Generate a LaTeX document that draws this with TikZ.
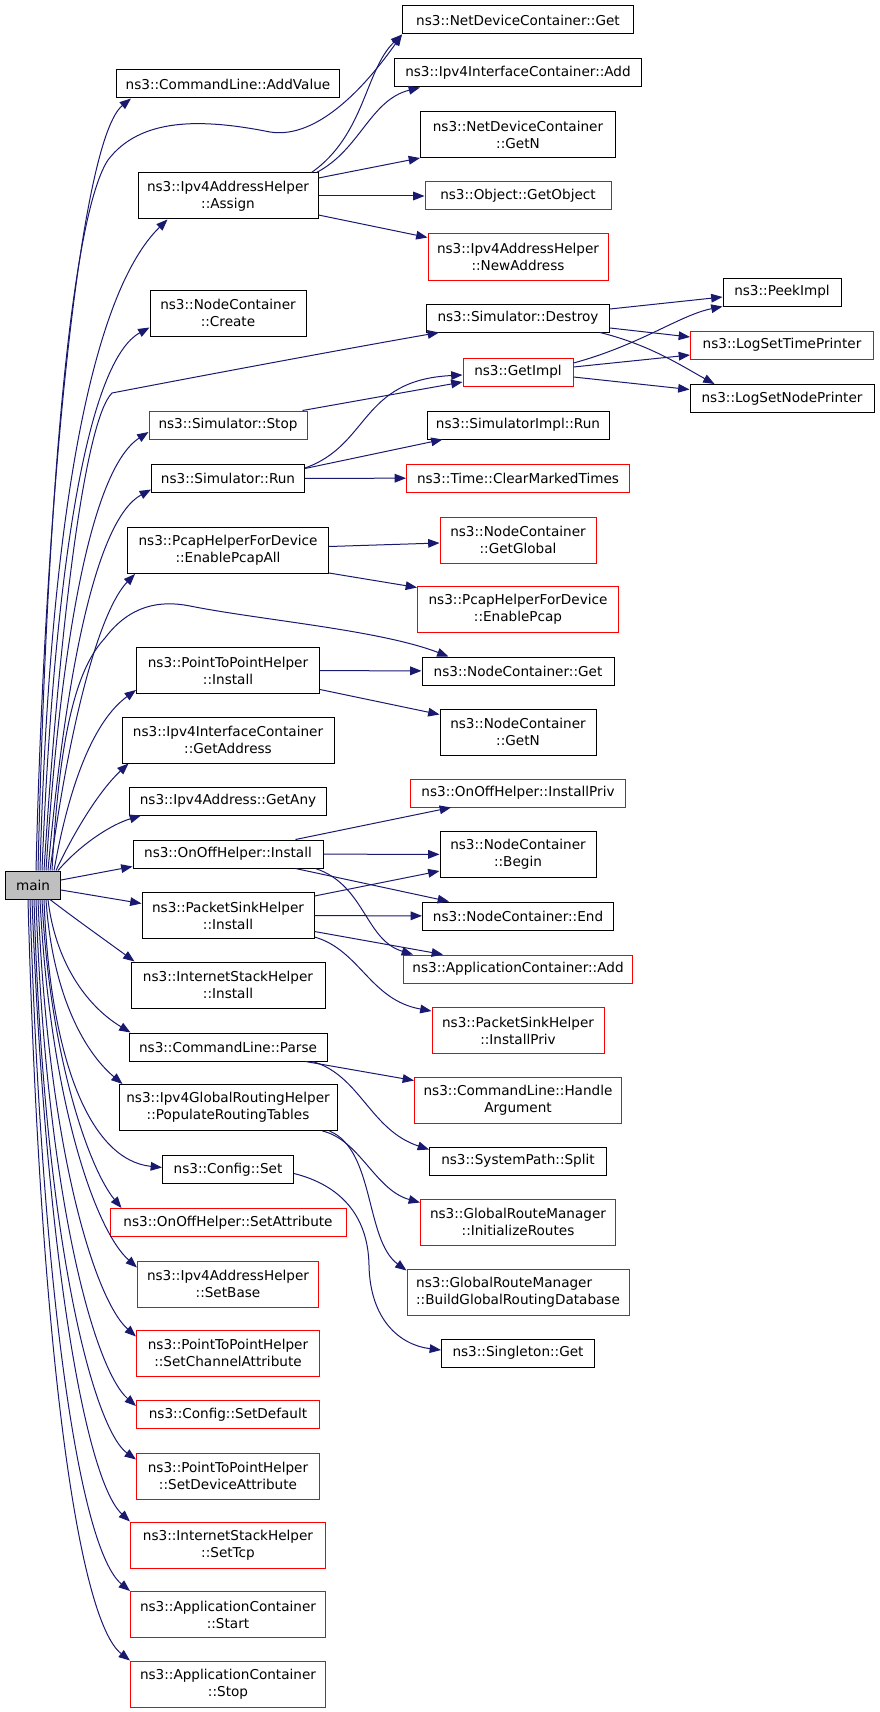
\documentclass[tikz,border=0pt]{standalone}
\usepackage{fontspec}
\setmainfont{DejaVu Sans}
\usepackage{tikz}
\usetikzlibrary{arrows.meta,calc}
\definecolor{edgeblue}{HTML}{191970}
\definecolor{rootgray}{HTML}{BFBFBF}
\tikzset{fn/.style={rectangle,draw=black,fill=white,line width=0.75pt,inner sep=0pt,minimum height=21pt,
	   font=\fontsize{10.2pt}{12.75pt}\selectfont,align=center},
	 undoc/.style={fn,draw=red},
	 root/.style={fn,fill=rootgray},
	 two/.style={minimum height=34.5pt},
	 wd/.style={minimum width=#1*0.75pt},
	 call/.style={draw=edgeblue,line width=0.75pt,-{Triangle[length=8.5pt,width=6.5pt]}}
	 }

\begin{document}
\begin{tikzpicture}[x=0.75pt,y=-0.75pt] % call graph of main
	\useasboundingbox (0,0) rectangle (880,1712);
	\node[root,wd=55] (main) at (33,885) {main};
	% first column
	\node[fn,wd=223] (addvalue) at (228,84) {ns3::CommandLine::AddValue};
	\node[fn,two,wd=180] (assign) at (228,196) {ns3::Ipv4AddressHelper\\::Assign};
	\node[fn,two,wd=156] (create) at (228,313) {ns3::NodeContainer\\::Create};
	\node[undoc,wd=158] (simstop) at (228,425) {ns3::Simulator::Stop};
	\node[fn,wd=153] (simrun) at (228,478.5) {ns3::Simulator::Run};
	\node[fn,two,wd=201] (pcapall) at (228,550.5) {ns3::PcapHelperForDevice\\::EnablePcapAll};
	\node[fn,two,wd=183] (ptpinstall) at (228,670.5) {ns3::PointToPointHelper\\::Install};
	\node[fn,two,wd=212] (getaddress) at (228,740) {ns3::Ipv4InterfaceContainer\\::GetAddress};
	\node[fn,wd=197] (getany) at (228,801) {ns3::Ipv4Address::GetAny};
	\node[fn,wd=190] (onoffinstall) at (228,854) {ns3::OnOffHelper::Install};
	\node[fn,two,wd=172] (pshinstall) at (228,915.5) {ns3::PacketSinkHelper\\::Install};
	\node[fn,two,wd=194] (ishinstall) at (228,985) {ns3::InternetStackHelper\\::Install};
	\node[fn,wd=198] (clparse) at (228,1047) {ns3::CommandLine::Parse};
	\node[fn,two,wd=218] (populate) at (228,1107.5) {ns3::Ipv4GlobalRoutingHelper\\::PopulateRoutingTables};
	\node[fn,wd=131] (configset) at (228,1169.5) {ns3::Config::Set};
	\node[undoc,wd=236] (setattr) at (228,1222.5) {ns3::OnOffHelper::SetAttribute};
	\node[undoc,two,wd=181] (setbase) at (228,1284) {ns3::Ipv4AddressHelper\\::SetBase};
	\node[undoc,two,wd=183] (setchannel) at (228,1353) {ns3::PointToPointHelper\\::SetChannelAttribute};
	\node[undoc,wd=183] (setdefault) at (228,1414.5) {ns3::Config::SetDefault};
	\node[undoc,two,wd=183] (setdevice) at (228,1476) {ns3::PointToPointHelper\\::SetDeviceAttribute};
	\node[undoc,two,wd=195] (settcp) at (228,1545) {ns3::InternetStackHelper\\::SetTcp};
	\node[undoc,two,wd=195] (appstart) at (228,1614.5) {ns3::ApplicationContainer\\::Start};
	\node[undoc,two,wd=195] (appstop) at (228,1684) {ns3::ApplicationContainer\\::Stop};
	% second column
	\node[fn,wd=231] (ndcget) at (518,20) {ns3::NetDeviceContainer::Get};
	\node[fn,wd=247] (ipv4icadd) at (518,73) {ns3::Ipv4InterfaceContainer::Add};
	\node[fn,two,wd=195] (ndcgetn) at (518,134.5) {ns3::NetDeviceContainer\\::GetN};
	\node[undoc,wd=186] (getobject) at (518,196) {ns3::Object::GetObject};
	\node[undoc,two,wd=180] (newaddress) at (518,257) {ns3::Ipv4AddressHelper\\::NewAddress};
	\node[fn,wd=183] (destroy) at (518,318) {ns3::Simulator::Destroy};
	\node[undoc,wd=110] (getimpl) at (518,372) {ns3::GetImpl};
	\node[fn,wd=182] (simimplrun) at (518,425) {ns3::SimulatorImpl::Run};
	\node[undoc,wd=223] (cleartimes) at (518,478) {ns3::Time::ClearMarkedTimes};
	\node[undoc,two,wd=156] (getglobal) at (518,540) {ns3::NodeContainer\\::GetGlobal};
	\node[undoc,two,wd=201] (enablepcap) at (518,609) {ns3::PcapHelperForDevice\\::EnablePcap};
	\node[fn,wd=192] (ncget) at (518,671) {ns3::NodeContainer::Get};
	\node[fn,two,wd=156] (ncgetn) at (518,732) {ns3::NodeContainer\\::GetN};
	\node[undoc,wd=215] (installpriv) at (518,793) {ns3::OnOffHelper::InstallPriv};
	\node[fn,two,wd=156] (ncbegin) at (518,854.5) {ns3::NodeContainer\\::Begin};
	\node[fn,wd=191] (ncend) at (518,916) {ns3::NodeContainer::End};
	\node[undoc,wd=229] (appcadd) at (518,969) {ns3::ApplicationContainer::Add};
	\node[undoc,two,wd=172] (pshpriv) at (518,1030.5) {ns3::PacketSinkHelper\\::InstallPriv};
	\node[undoc,two,wd=207] (handlearg) at (518,1100) {ns3::CommandLine::Handle\\Argument};
	\node[fn,wd=177] (splitpath) at (518,1161) {ns3::SystemPath::Split};
	\node[undoc,two,wd=195] (initroutes) at (518,1222) {ns3::GlobalRouteManager\\::InitializeRoutes};
	\node[undoc,two,wd=222,align=left] (buildgrd) at (518,1292) {ns3::GlobalRouteManager\\::BuildGlobalRoutingDatabase};
	\node[fn,wd=153] (singleton) at (518,1353) {ns3::Singleton::Get};
	% third column
	\node[fn,wd=118] (peekimpl) at (782,292) {ns3::PeekImpl};
	\node[undoc,wd=183] (logtime) at (782,345) {ns3::LogSetTimePrinter};
	\node[fn,wd=184] (lognode) at (782,398.5) {ns3::LogSetNodePrinter};

	% calls from main, upwards
	\draw[call] ($(main.north)+(3,0)$) .. controls (45,500) and (80,140) .. ($(addvalue.south west)+(15,0)$);
	\draw[call] ($(main.north)+(5,0)$) .. controls (48,450) and (75,210) .. (108,160)
		.. controls (140,118) and (200,118) .. (270,132) .. controls (320,140) and (370,80) .. (ndcget.south west);
	\draw[call] ($(main.north)+(7,0)$) .. controls (50,500) and (95,290) .. ($(assign.south west)+(30,0)$);
	\draw[call] ($(main.north)+(9,0)$) .. controls (55,550) and (90,360) .. ($(create.south west)+(0,-9)$);
	\draw[call] ($(main.north)+(11,0)$) .. controls (60,620) and (85,420) .. (112,393)
		.. controls (200,376) and (350,348) .. ($(destroy.south west)+(13,0)$);
	\draw[call] ($(main.north)+(13,0)$) .. controls (60,650) and (90,470) .. ($(simstop.west)+(0,7)$);
	\draw[call] ($(main.north)+(15,0)$) .. controls (65,680) and (95,520) .. ($(simrun.west)+(0,11)$);
	\draw[call] ($(main.north)+(17,0)$) .. controls (70,720) and (100,610) .. ($(pcapall.south west)+(8,0)$);
	\draw[call] ($(main.north)+(19,0)$) .. controls (60,720) and (80,665) .. (105,638)
		.. controls (130,605) and (160,600) .. (190,606) .. controls (260,620) and (380,630) .. ($(ncget.north west)+(27,0)$);
	\draw[call] ($(main.north)+(21,0)$) .. controls (70,780) and (95,720) .. ($(ptpinstall.south west)+(0,-4)$);
	\draw[call] ($(main.north)+(23,0)$) .. controls (75,830) and (100,790) .. ($(getaddress.south west)+(7,0)$);
	\draw[call] ($(main.north)+(25,0)$) .. controls (80,845) and (110,825) .. ($(getany.south west)+(12,0)$);
	\draw[call] ($(main.east)+(0,-5)$) -- ($(onoffinstall.south west)+(0,-2)$);
	\draw[call] ($(main.east)+(0,5)$) -- ($(pshinstall.west)+(0,-12)$);
	% calls from main, downwards
	\draw[call] ($(main.south)+(17,0)$) .. controls (70,915) and (105,940) .. ($(ishinstall.north west)+(4,0)$);
	\draw[call] ($(main.south)+(15,0)$) .. controls (55,960) and (85,1005) .. ($(clparse.north west)+(2,0)$);
	\draw[call] ($(main.south)+(13,0)$) .. controls (52,990) and (82,1050) .. ($(populate.north west)+(4,0)$);
	\draw[call] ($(main.south)+(11,0)$) .. controls (50,1060) and (90,1160) .. ($(configset.west)+(0,-2)$);
	\draw[call] ($(main.south)+(9,0)$) .. controls (50,1060) and (90,1170) .. ($(setattr.north west)+(12,0)$);
	\draw[call] ($(main.south)+(7,0)$) .. controls (50,1100) and (95,1230) .. ($(setbase.north west)+(0,7)$);
	\draw[call] ($(main.south)+(5,0)$) .. controls (48,1150) and (95,1300) .. ($(setchannel.north west)+(0,7)$);
	\draw[call] ($(main.south)+(3,0)$) .. controls (46,1200) and (95,1370) .. ($(setdefault.north west)+(0,6)$);
	\draw[call] ($(main.south)+(1,0)$) .. controls (44,1250) and (95,1430) .. ($(setdevice.north west)+(0,7)$);
	\draw[call] ($(main.south)+(-1,0)$) .. controls (45,1250) and (85,1480) .. (settcp.north west);
	\draw[call] ($(main.south)+(-3,0)$) .. controls (42,1300) and (80,1550) .. (appstart.north west);
	\draw[call] ($(main.south)+(-5,0)$) .. controls (40,1350) and (78,1620) .. (appstop.north west);

	% second level
	\draw[call] ($(assign.north east)+(-7,0)$) .. controls (365,135) and (365,70) .. (ndcget.south west);
	\draw[call] ($(assign.north east)+(-2,0)$) .. controls (360,150) and (370,100) .. ($(ipv4icadd.south west)+(26,0)$);
	\draw[call] ($(assign.east)+(0,-18)$) -- (ndcgetn.south west);
	\draw[call] (assign) -- (getobject);
	\draw[call] ($(assign.east)+(0,19)$) -- ($(newaddress.north west)+(0,4)$);
	\draw[call] ($(destroy.east)+(0,-9)$) -- ($(peekimpl.west)+(0,5)$);
	\draw[call] ($(destroy.east)+(0,10)$) -- ($(logtime.west)+(0,-8)$);
	\draw[call] ($(destroy.south east)+(-10,0)$) .. controls (650,345) and (680,365) .. ($(lognode.north west)+(25,0)$);
	\draw[call] ($(getimpl.east)+(0,-9)$) .. controls (640,345) and (680,315) .. (peekimpl.south west);
	\draw[call] ($(getimpl.east)+(0,-5)$) -- ($(logtime.west)+(0,10)$);
	\draw[call] ($(getimpl.east)+(0,5)$) -- ($(lognode.west)+(0,-9)$);
	\draw[call] ($(simstop.north east)+(-5,0)$) -- ($(getimpl.west)+(0,10)$);
	\draw[call] ($(simrun.north east)+(0,4)$) .. controls (370,445) and (360,380) .. ($(getimpl.west)+(0,3)$);
	\draw[call] ($(simrun.east)+(0,-10)$) -- ($(simimplrun.south west)+(16,0)$);
	\draw[call] (simrun) -- (cleartimes);
	\draw[call] ($(pcapall.east)+(0,-4)$) -- ($(getglobal.west)+(0,3)$);
	\draw[call] ($(pcapall.south east)+(0,-1)$) -- ($(enablepcap.north west)+(0,2)$);
	\draw[call] (ptpinstall) -- (ncget);
	\draw[call] ($(ptpinstall.east)+(0,19)$) -- ($(ncgetn.north west)+(0,6)$);
	\draw[call] ($(onoffinstall.north east)+(-28,0)$) -- ($(installpriv.south west)+(41,0)$);
	\draw[call] (onoffinstall) -- (ncbegin);
	\draw[call] ($(onoffinstall.south east)+(-28,0)$) -- ($(ncend.north west)+(27,0)$);
	\draw[call] ($(onoffinstall.south east)+(-8,0)$) .. controls (365,885) and (365,940) .. ($(appcadd.north west)+(10,0)$);
	\draw[call] ($(pshinstall.north east)+(0,4)$) -- ($(ncbegin.south west)+(0,-7)$);
	\draw[call] (pshinstall) -- (ncend);
	\draw[call] ($(pshinstall.east)+(0,16)$) -- ($(appcadd.north west)+(40,0)$);
	\draw[call] ($(pshinstall.south east)+(0,-2)$) .. controls (360,950) and (370,1000) .. ($(pshpriv.north west)+(0,4)$);
	\draw[call] ($(clparse.south east)+(-22,0)$) -- ($(handlearg.north west)+(0,4)$);
	\draw[call] ($(clparse.south east)+(-15,0)$) .. controls (360,1075) and (370,1130) .. ($(splitpath.north west)+(0,3)$);
	\draw[call] ($(populate.south east)+(-15,0)$) .. controls (360,1140) and (375,1190) .. ($(initroutes.north west)+(0,4)$);
	\draw[call] ($(populate.south east)+(-8,0)$) .. controls (375,1150) and (365,1240) .. ($(buildgrd.north west)+(0,2)$);
	\draw[call] ($(configset.east)+(0,4)$) .. controls (340,1185) and (368,1215) .. (369,1265)
		.. controls (370,1320) and (400,1345) .. ($(singleton.west)+(0,-3)$);
\end{tikzpicture}
\end{document}
